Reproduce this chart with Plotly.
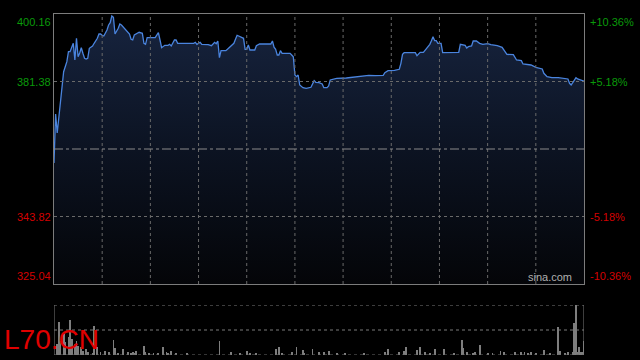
import plotly.graph_objects as go

# ---- data (minutes from open, price) ----
times = [0,1,2,4,5,6,7,8,9,10,12,13,14,15,16,17,18,19,20,21,22,24,25,27,28,29,30,31,33,34,
         35,36,37,38,40,41,42,44,45,47,48,49,50,52,53,55,56,57,58,63,64,65,66,67,69,71,72,73,75,76,
         77,87,88,89,91,92,96,98,100,101,102,103,104,107,108,110,112,113,114,115,117,118,119,120,121,122,125,126,128,132,
         135,136,137,138,139,140,141,142,147,148,149,150,151,152,153,155,157,160,161,162,163,165,167,168,170,171,172,174,176,182,
         188,193,196,200,205,206,208,212,215,216,217,218,225,226,228,230,232,234,235,236,237,238,239,241,242,245,252,253,255,256,
         257,258,260,261,263,265,267,270,272,276,279,280,282,286,288,291,292,297,300,304,305,307,310,314,318,320,321,322,323,325,
         326,328,329,330]
prices = [358.71,372.34,367.05,375.40,379.93,384.11,385.50,386.89,389.67,389.67,392.01,387.36,393.40,388.28,389.31,390.78,389.23,387.84,387.64,387.84,
          390.62,391.26,392.01,393.40,394.60,394.60,394.23,394.04,395.71,397.10,397.74,399.60,399.24,394.60,396.18,397.38,397.10,396.18,395.51,394.60,
          393.12,392.93,394.32,394.79,395.07,394.79,392.01,391.73,393.57,393.57,394.32,394.96,392.93,390.78,391.45,391.45,391.73,391.26,392.93,392.93,
          392.01,392.01,392.29,391.73,392.29,391.73,391.62,391.34,392.29,391.90,392.65,388.00,389.95,389.95,390.34,391.06,392.01,393.12,394.23,394.04,
          393.57,393.40,390.34,390.34,391.54,390.14,390.14,391.34,391.81,391.73,391.81,392.65,390.90,390.34,388.75,388.75,389.95,389.23,389.23,388.75,
          388.28,383.19,382.72,383.19,380.41,379.66,379.49,379.77,380.88,381.60,381.16,381.05,380.69,379.66,379.66,380.13,381.80,381.99,382.27,382.36,
          382.63,382.91,383.11,382.99,383.11,383.83,384.39,384.50,384.78,386.44,388.95,389.39,389.39,388.56,389.50,389.50,390.62,391.73,392.73,393.84,
          392.73,392.73,392.01,392.01,389.39,389.39,389.50,391.73,391.45,391.45,390.70,391.06,391.26,392.65,392.65,392.01,391.73,391.90,391.62,391.34,
          390.90,390.14,388.95,388.84,387.36,387.17,386.25,385.97,385.33,384.86,383.66,382.72,382.44,382.44,382.27,382.08,380.88,380.41,381.05,382.44,
          382.08,381.80,381.60,381.50]

vol_times = [2,3,4,6,7,9,10,11,13,14,15,17,18,20,21,24,25,27,29,32,34,37,38,40,43,46,48,49,50,51,
             56,57,59,62,65,68,70,71,73,76,83,103,110,116,120,122,126,138,140,142,148,151,155,156,161,165,168,171,176,181,
             193,206,208,215,218,219,226,228,231,234,237,243,249,254,255,257,261,262,265,270,273,278,280,287,291,293,295,297,300,305,
             309,314,315,318,320,323,324,325,326,327,328,329,330]
vol_values = [23,67,29,43,26,36,71,33,23,29,19,16,9,13,7,4,59,16,6,9,7,31,15,4,13,6,4,6,4,9,
              19,7,4,4,4,16,6,4,9,3,3,29,7,4,9,4,4,13,16,4,6,16,11,4,13,6,7,9,4,3,
              3,6,13,6,8,17,11,17,7,4,13,13,4,31,15,6,4,7,21,4,4,9,6,6,7,6,4,6,3,11,
              3,56,9,4,7,6,64,100,6,16,6,7,29]

prev_close = 362.60
y_min, y_max = 325.04, 400.16
left_ticks = [400.16, 381.38, 343.82, 325.04]
left_labels = ["400.16", "381.38", "343.82", "325.04"]
right_labels = ["+10.36%", "+5.18%", "-5.18%", "-10.36%"]
tick_colors = ["#0a9a0a", "#0a9a0a", "#d40000", "#d40000"]
session_minutes = 330
grid_step = 30
vol_max = 100
symbol = "L70.CN"

FONT = "Liberation Sans, Arial, sans-serif"
GRID = "#6a6a6a"
BORDER = "#7c7c7c"

fig = go.Figure()
fig.add_trace(go.Scatter(
    x=times, y=prices, mode="lines",
    line=dict(color="#4a84de", width=1.3),
    fill="tozeroy",
    fillgradient=dict(type="vertical", start=y_min, stop=y_max,
                      colorscale=[[0, "#040508"], [0.5, "#0c1322"], [1, "#17243f"]]),
    hoverinfo="skip", xaxis="x", yaxis="y"))
fig.add_trace(go.Bar(
    x=vol_times, y=vol_values, width=0.5,
    marker=dict(color="#7e7e7e", line=dict(width=0)),
    hoverinfo="skip", xaxis="x2", yaxis="y2"))

main_bottom = (355 - 284) / 341
vol_top = (355 - 305) / 341

fig.update_layout(
    width=640, height=360,
    margin=dict(l=54, r=56, t=14, b=5),
    paper_bgcolor="black", plot_bgcolor="black",
    showlegend=False, bargap=0,
    font=dict(family=FONT, size=11),
    xaxis=dict(domain=[0, 1], range=[0, session_minutes], anchor="y",
               showgrid=False, showticklabels=False, ticks="", zeroline=False,
               showline=True, mirror=True, linecolor=BORDER, linewidth=1),
    yaxis=dict(domain=[main_bottom, 1], range=[y_min, y_max], anchor="x",
               showgrid=False, showticklabels=False, ticks="", zeroline=False,
               showline=True, mirror=True, linecolor=BORDER, linewidth=1),
    xaxis2=dict(domain=[0, 1], range=[0, session_minutes], anchor="y2",
                showgrid=False, showticklabels=False, ticks="", zeroline=False, showline=False),
    yaxis2=dict(domain=[0, vol_top], range=[0, vol_max], anchor="x2",
                showgrid=False, showticklabels=False, ticks="", zeroline=False, showline=False),
)

dot = dict(color=GRID, width=1, dash="dot")
shapes = []
for gx in range(grid_step, session_minutes, grid_step):
    shapes.append(dict(type="line", xref="x", yref="y", x0=gx, x1=gx, y0=y_min, y1=y_max,
                       line=dot, layer="above"))
for gy in (left_ticks[1], left_ticks[2]):
    shapes.append(dict(type="line", xref="x", yref="y", x0=0, x1=session_minutes, y0=gy, y1=gy,
                       line=dot, layer="above"))
shapes += [
    dict(type="line", xref="x", yref="y", x0=0, x1=session_minutes, y0=prev_close, y1=prev_close,
         line=dict(color="#8a8a8a", width=1, dash="dashdot"), layer="above"),
    dict(type="line", xref="x2", yref="y2", x0=0, x1=session_minutes, y0=vol_max, y1=vol_max,
         line=dict(color="#7a7a7a", width=1, dash="dot")),
    dict(type="line", xref="x2", yref="y2", x0=0, x1=session_minutes, y0=vol_max / 2, y1=vol_max / 2,
         line=dict(color="#7a7a7a", width=1, dash="dot")),
    dict(type="line", xref="x2", yref="y2", x0=0, x1=session_minutes, y0=0, y1=0,
         line=dict(color="#6a6a6a", width=1, dash="dot")),
    dict(type="line", xref="x2", yref="y2", x0=0, x1=0, y0=0, y1=vol_max,
         line=dict(color=BORDER, width=1)),
    dict(type="line", xref="x2", yref="y2", x0=session_minutes, x1=session_minutes, y0=0, y1=vol_max,
         line=dict(color=BORDER, width=1)),
]
fig.update_layout(shapes=shapes)

anns = []
anchors = ["top", "middle", "middle", "bottom"]
for v, lt, rt, c, a in zip(left_ticks, left_labels, right_labels, tick_colors, anchors):
    anns.append(dict(x=0, xref="paper", y=v, yref="y", text=lt, showarrow=False,
                     xanchor="right", yanchor=a, xshift=-1,
                     font=dict(family=FONT, size=11, color=c)))
    anns.append(dict(x=1, xref="paper", y=v, yref="y", text=rt, showarrow=False,
                     xanchor="left", yanchor=a, xshift=4,
                     font=dict(family=FONT, size=11, color=c)))
anns.append(dict(x=1, xref="paper", y=y_min, yref="y", text="sina.com", showarrow=False,
                 xanchor="right", yanchor="bottom", xshift=-10, yshift=-1,
                 font=dict(family=FONT, size=11, color="#b0b0b0")))
anns.append(dict(x=0, xref="paper", y=0, yref="paper", text=symbol, showarrow=False,
                 xanchor="left", yanchor="bottom", xshift=-52, yshift=-2,
                 font=dict(family=FONT, size=28, color="#e00000")))
fig.update_layout(annotations=anns)

fig.write_html("out.html")
